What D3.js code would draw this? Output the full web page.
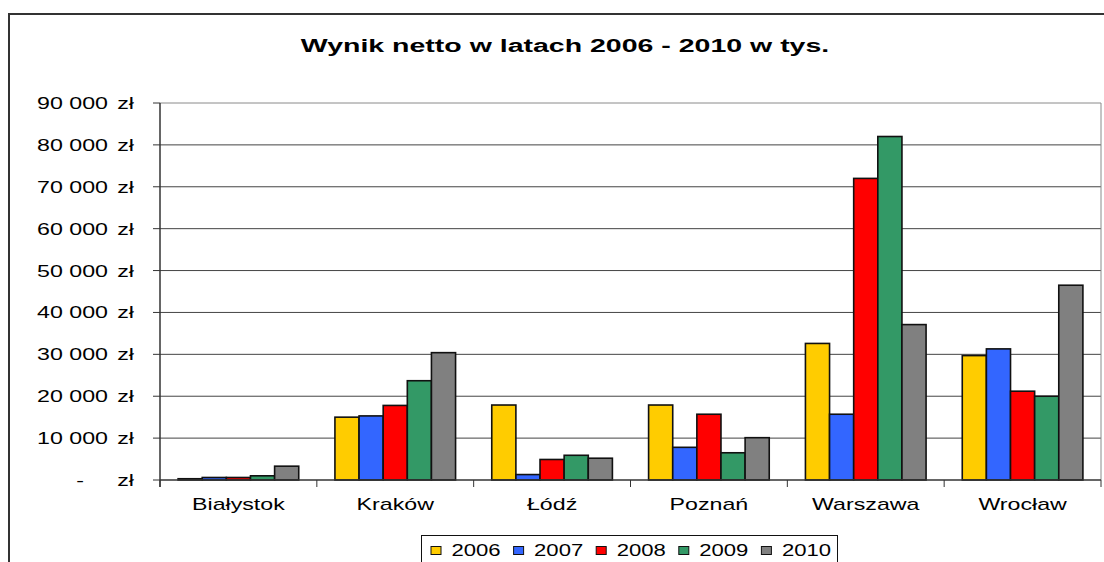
<!DOCTYPE html>
<html>
<head>
<meta charset="utf-8">
<script src="https://cdn.jsdelivr.net/npm/d3@7"></script>
<style>
  body { margin: 0; background: #fff; }
  svg { font-family: 'Liberation Sans', Arial, sans-serif; }
</style>
</head>
<body>
<script>
const cities = ['Białystok', 'Kraków', 'Łódź', 'Poznań', 'Warszawa', 'Wrocław']
const years = ['2006', '2007', '2008', '2009', '2010']
const colors = ['#FFCC00', '#3366FF', '#FF0000', '#339966', '#808080']

const v2006 = [300, 15000, 17900, 17900, 32600, 29700]
const v2007 = [600, 15300, 1300, 7800, 15700, 31300]
const v2008 = [600, 17800, 4900, 15700, 72000, 21200]
const v2009 = [1000, 23700, 5900, 6500, 82000, 20000]
const v2010 = [3300, 30400, 5200, 10100, 37100, 46500]
const series = [v2006, v2007, v2008, v2009, v2010]

const yTicks = [0, 10000, 20000, 30000, 40000, 50000, 60000, 70000, 80000, 90000]

const width = 1104
const height = 562
const plot = { left: 160, top: 103, right: 1101, bottom: 480 }
// the source image has wide, GDI-style text; stretch glyphs horizontally
const stretch = 1.45

const svg = d3.select('body').append('svg')
  .attr('width', width)
  .attr('height', height)

function label (g, x, y, sx) {
  return g.append('text')
    .attr('transform', `translate(${x},${y}) scale(${sx},1)`)
}

// outer chart frame
svg.append('path')
  .attr('d', `M${width + 2},14H9V${height + 2}`)
  .attr('fill', 'none')
  .attr('stroke', '#333')
  .attr('stroke-width', 2)

label(svg, 565, 52, 1.5)
  .attr('text-anchor', 'middle')
  .attr('font-size', 19)
  .attr('font-weight', 'bold')
  .text('Wynik netto w latach 2006 - 2010 w tys.')

const x0 = d3.scaleBand().domain(cities).range([plot.left, plot.right])
// inner band: 5 bars + gap of 1.5 bars (Excel gap width 150%)
const x1 = d3.scaleBand().domain(years)
  .range([x0.bandwidth() * 0.75 / 6.5, x0.bandwidth() * 5.75 / 6.5])
const y = d3.scaleLinear().domain([0, 90000]).range([plot.bottom, plot.top])

// gridlines
svg.append('g')
  .selectAll('line')
  .data(yTicks.filter(d => d > 0))
  .join('line')
  .attr('x1', plot.left)
  .attr('x2', plot.right)
  .attr('y1', d => y(d))
  .attr('y2', d => y(d))
  .attr('stroke', d => d === 90000 ? '#8a8a8a' : '#444')
  .attr('stroke-width', 1)

// right border of plot area
svg.append('line')
  .attr('x1', plot.right).attr('x2', plot.right)
  .attr('y1', plot.top).attr('y2', plot.bottom)
  .attr('stroke', '#8a8a8a')

// bars
const groups = svg.append('g')
  .selectAll('g')
  .data(cities)
  .join('g')
  .attr('transform', d => `translate(${x0(d)},0)`)

groups.selectAll('rect')
  .data((c, i) => years.map((yr, j) => ({ yr, color: colors[j], value: series[j][i] })))
  .join('rect')
  .attr('x', d => x1(d.yr))
  .attr('y', d => y(d.value))
  .attr('width', x1.bandwidth())
  .attr('height', d => y(0) - y(d.value))
  .attr('fill', d => d.color)
  .attr('stroke', '#111')
  .attr('stroke-width', 1.6)

// y axis
const yAxis = svg.append('g')
yAxis.append('line')
  .attr('x1', plot.left).attr('x2', plot.left)
  .attr('y1', plot.top).attr('y2', plot.bottom + 7)
  .attr('stroke', '#333').attr('stroke-width', 1.5)
yAxis.selectAll('line.tick')
  .data(yTicks)
  .join('line')
  .attr('class', 'tick')
  .attr('x1', plot.left - 7).attr('x2', plot.left)
  .attr('y1', d => y(d)).attr('y2', d => y(d))
  .attr('stroke', '#333')
yTicks.forEach(d => {
  label(yAxis, d === 0 ? 84 : 108, y(d) + 6, stretch)
    .attr('text-anchor', 'end')
    .attr('font-size', 16)
    .text(d === 0 ? '-' : d3.format(',')(d).replace(',', ' '))
  label(yAxis, 134, y(d) + 6, stretch)
    .attr('text-anchor', 'end')
    .attr('font-size', 16)
    .text('zł')
})

// x axis
const xAxis = svg.append('g')
xAxis.append('line')
  .attr('x1', plot.left).attr('x2', plot.right)
  .attr('y1', plot.bottom).attr('y2', plot.bottom)
  .attr('stroke', '#333').attr('stroke-width', 1.5)
xAxis.selectAll('line.tick')
  .data(d3.range(cities.length + 1))
  .join('line')
  .attr('class', 'tick')
  .attr('x1', i => plot.left + i * x0.bandwidth())
  .attr('x2', i => plot.left + i * x0.bandwidth())
  .attr('y1', plot.bottom).attr('y2', plot.bottom + 7)
  .attr('stroke', '#333')
cities.forEach(c => {
  label(xAxis, x0(c) + x0.bandwidth() / 2, 510, stretch)
    .attr('text-anchor', 'middle')
    .attr('font-size', 16)
    .text(c)
})

// legend
const legend = svg.append('g')
legend.append('rect')
  .attr('x', 421.5).attr('y', 535.5)
  .attr('width', 416).attr('height', 40)
  .attr('fill', '#fff')
  .attr('stroke', '#111')
years.forEach((yr, i) => {
  const item = legend.append('g')
    .attr('transform', `translate(${430.5 + i * 82.6},0)`)
  item.append('rect')
    .attr('x', 0.5).attr('y', 546.5)
    .attr('width', 10).attr('height', 8)
    .attr('fill', colors[i])
    .attr('stroke', '#111')
  label(item, 21, 555.5, 1.38)
    .attr('font-size', 16)
    .text(yr)
})
</script>
</body>
</html>
